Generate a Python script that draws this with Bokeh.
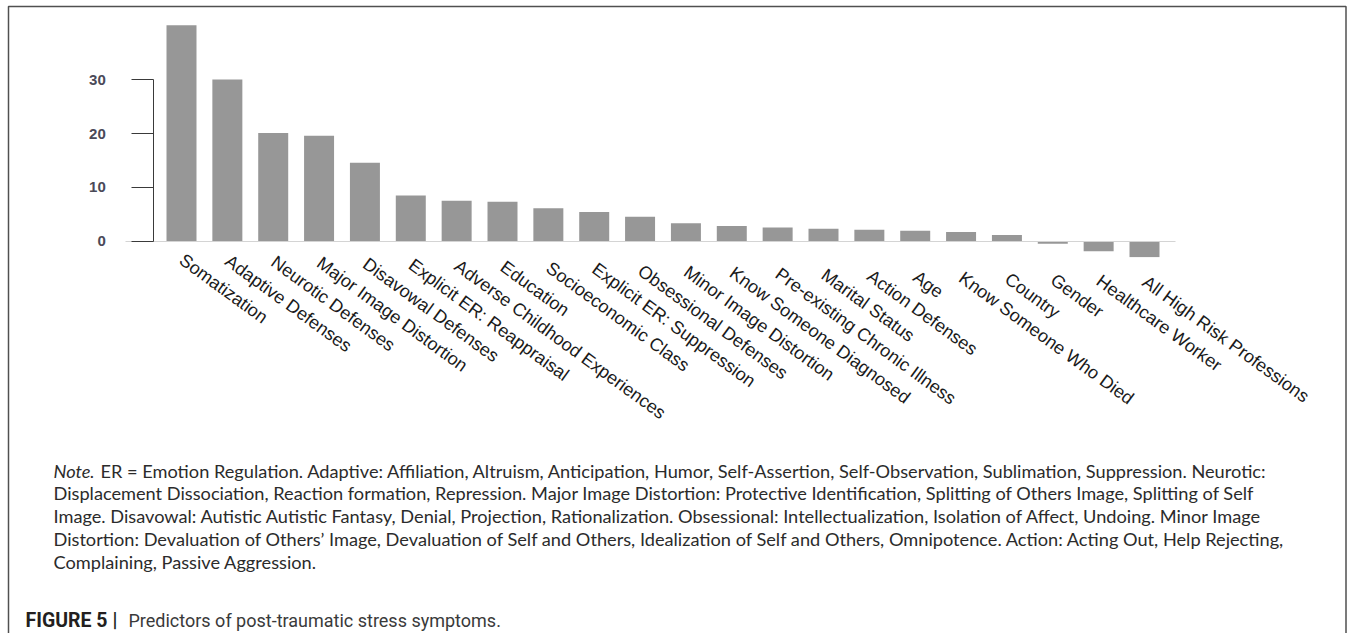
from bokeh.plotting import figure
from bokeh.models import Range1d, FixedTicker, Label, LinearAxis, BoxAnnotation
from bokeh.embed import file_html
from bokeh.resources import INLINE

categories = ["Somatization", "Adaptive Defenses", "Neurotic Defenses", "Major Image Distortion",
              "Disavowal Defenses", "Explicit ER: Reappraisal", "Adverse Childhood Experiences",
              "Education", "Socioeconomic Class", "Explicit ER: Suppression", "Obsessional Defenses",
              "Minor Image Distortion", "Know Someone Diagnosed", "Pre-existing Chronic Illness",
              "Marital Status", "Action Defenses", "Age", "Know Someone Who Died", "Country",
              "Gender", "Healthcare Worker", "All High Risk Professions"]
values = [40.2, 30.1, 20.1, 19.6, 14.6, 8.5, 7.5, 7.3, 6.1, 5.4, 4.5, 3.3, 2.8, 2.5, 2.3, 2.1,
          1.9, 1.7, 1.1, -0.5, -1.9, -3.0]
y_ticks = [0, 10, 20, 30]

note_lines = [
    "ER = Emotion Regulation. Adaptive: Affiliation, Altruism, Anticipation, Humor, Self-Assertion, Self-Observation, Sublimation, Suppression. Neurotic:",
    "Displacement Dissociation, Reaction formation, Repression. Major Image Distortion: Protective Identification, Splitting of Others Image, Splitting of Self",
    "Image. Disavowal: Autistic Autistic Fantasy, Denial, Projection, Rationalization. Obsessional: Intellectualization, Isolation of Affect, Undoing. Minor Image",
    "Distortion: Devaluation of Others\u2019 Image, Devaluation of Self and Others, Idealization of Self and Others, Omnipotence. Action: Acting Out, Help Rejecting,",
    "Complaining, Passive Aggression.",
]
caption_bold = "FIGURE 5 |"
caption_text = "Predictors of post-traumatic stress symptoms."

W, H = 1347, 633
PX = 45.857
PY = 5.367
x0 = -181 / PX
y_top = 240.5 / PY

p = figure(width=W, height=H, output_backend="svg", toolbar_location=None,
           x_range=Range1d(x0, x0 + W / PX), y_range=Range1d(y_top - H / PY, y_top),
           min_border=0)
p.xaxis.visible = False
p.yaxis.visible = False
p.grid.visible = False
p.outline_line_color = None
p.background_fill_color = "white"
p.border_fill_color = "white"

# surrounding box (open at the bottom, like the cropped reference)
p.add_layout(BoxAnnotation(left=8, right=W - 1.5, top=6, bottom=H + 30,
                           left_units="canvas", right_units="canvas", top_units="canvas",
                           bottom_units="canvas", fill_alpha=0, line_color="#505050",
                           line_alpha=1, line_dash="solid", line_width=1.5))

idx = list(range(len(categories)))
p.vbar(x=idx, top=values, bottom=0, width=0.654, fill_color="#979797", line_color=None)

# zero line
base = LinearAxis(fixed_location=0)
base.ticker = FixedTicker(ticks=[])
base.bounds = (-1.22, 21.67)
base.axis_line_color = "#d4d4d4"
base.axis_line_width = 1.2
base.major_tick_out = 0
base.minor_tick_out = 0
p.add_layout(base, "below")

# category labels (slightly lower toward the right, as in the reference)
for i, c in zip(idx, categories):
    ax = LinearAxis(fixed_location=0)
    ax.ticker = FixedTicker(ticks=[i])
    ax.major_label_overrides = {i: c}
    ax.major_label_orientation = -0.63
    ax.major_label_text_font = "Liberation Sans"
    ax.major_label_text_font_size = "18px"
    ax.major_label_text_color = "#1a1a1a"
    ax.major_label_standoff = int(round(17 + 1.05 * i))
    ax.major_tick_out = 0
    ax.major_tick_in = 0
    ax.minor_tick_out = 0
    ax.minor_tick_in = 0
    ax.axis_line_color = None
    p.add_layout(ax, "below")

yax = LinearAxis(fixed_location=-0.604)
yax.ticker = FixedTicker(ticks=y_ticks)
yax.bounds = (0, 30)
yax.major_tick_out = 22
yax.major_tick_in = 0
yax.minor_tick_out = 0
yax.minor_tick_in = 0
yax.axis_line_color = "#3a3a3a"
yax.major_tick_line_color = "#3a3a3a"
yax.major_label_text_font = "Liberation Sans"
yax.major_label_text_font_style = "bold"
yax.major_label_text_font_size = "15px"
yax.major_label_text_color = "#4a4a58"
yax.major_label_standoff = 26
p.add_layout(yax, "left")

note_font = "Lato"
note_size = "18.2px"
note_y = [163, 140.25, 117.5, 94.75, 72]
p.add_layout(Label(x=53, y=note_y[0], x_units="screen", y_units="screen", text="Note.",
                   text_font=note_font, text_font_size=note_size, text_font_style="italic",
                   text_color="#2b2b2b", text_baseline="middle"))
for i, line in enumerate(note_lines):
    p.add_layout(Label(x=100 if i == 0 else 53, y=note_y[i], x_units="screen", y_units="screen",
                       text=line, text_font=note_font, text_font_size=note_size,
                       text_color="#2b2b2b", text_baseline="middle"))

p.add_layout(Label(x=25, y=13, x_units="screen", y_units="screen", text=caption_bold,
                   text_font="Roboto", text_font_size="19.5px", text_font_style="bold",
                   text_color="#231f20", text_baseline="middle"))
p.add_layout(Label(x=128, y=13, x_units="screen", y_units="screen", text=caption_text,
                   text_font="Roboto", text_font_size="18px",
                   text_color="#3a3a3a", text_baseline="middle"))

open("out.html", "w").write(file_html(p, INLINE))
